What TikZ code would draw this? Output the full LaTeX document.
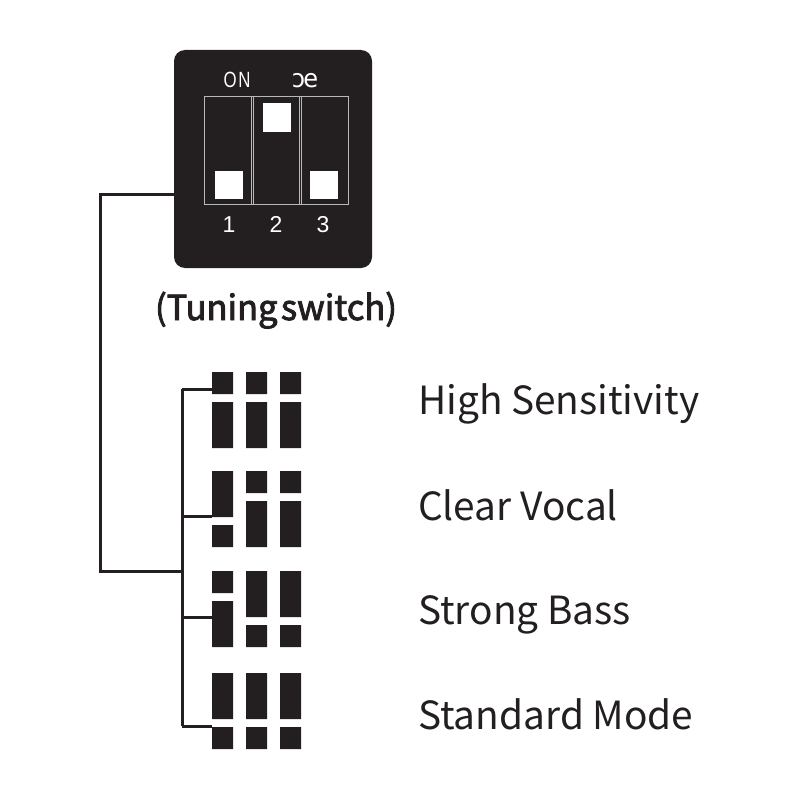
\documentclass[tikz,border=0pt]{standalone}
\usepackage{fontspec}
\setmainfont{Noto Sans CJK SC}
\newfontfamily\capf{Noto Sans CJK SC}[FakeBold=2.5]
\newfontfamily\arialf{Liberation Sans}
\newfontfamily\dejavuf{DejaVu Sans}
\definecolor{ink}{HTML}{231F20}
\definecolor{frameline}{HTML}{B8B8B8}
\begin{document}
\begin{tikzpicture}[x=1pt,y=-1pt,
  wire/.style={draw=ink,line width=3pt},
  blk/.style={fill=ink},
  knob/.style={fill=white},
  lbl/.style={anchor=base west,inner sep=0,text=ink,font=\fontsize{38.8}{42}\selectfont},
  dig/.style={anchor=base,inner sep=0,text=white,font=\arialf\fontsize{23}{26}\selectfont},
  top/.style={anchor=base,inner sep=0,text=white,font=\arialf\fontsize{21}{24}\selectfont}]
\useasboundingbox (0,0) rectangle (800,800);
% switch body
\node[fill=ink,rounded corners=11pt,minimum width=198pt,minimum height=218pt,inner sep=0] (sw) at (273,159) {};
\draw[frameline,line width=0.9pt] (204,96) rectangle (348,204);
\draw[frameline,line width=0.9pt] (251,96) -- (251,204) (253.5,96) -- (253.5,204);
\draw[frameline,line width=0.9pt] (299,96) -- (299,204) (301.5,96) -- (301.5,204);
\path[knob] (215,171) rectangle (243,199);
\path[knob] (263,103) rectangle (291,132);
\path[knob] (310,171) rectangle (338,199);
\node[top] (on) at (237,88) {\scalebox{0.8}[1.05]{O\kern2ptN}};
\node[top] (off) at (305,88) {\scalebox{1.15}[1.2]{\dejavuf ɔ\kern-1.5pt e}};
\node[dig] (d1) at (229,232) {1};
\node[dig] (d2) at (276,232) {2};
\node[dig] (d3) at (323,232) {3};
\node[anchor=base,inner sep=0,text=ink,font=\capf\fontsize{34.5}{38}\selectfont] (cap) at (276,320) {(Tuning\hspace{0.1em}switch)};
% patterns
% group 1
\path[blk] (212,372) rectangle (233,394) (246,372) rectangle (267,394) (280,372) rectangle (301,394);
\path[blk] (212,402) rectangle (233,448) (246,402) rectangle (267,448) (280,402) rectangle (301,448);
% group 2
\path[blk] (212,471) rectangle (233,517) (212,525) rectangle (233,547);
\path[blk] (246,471) rectangle (267,493) (280,471) rectangle (301,493);
\path[blk] (246,501) rectangle (267,547) (280,501) rectangle (301,547);
% group 3
\path[blk] (212,571) rectangle (233,593) (212,601) rectangle (233,647);
\path[blk] (246,571) rectangle (267,617) (280,571) rectangle (301,617);
\path[blk] (246,625) rectangle (267,647) (280,625) rectangle (301,647);
% group 4
\path[blk] (212,673) rectangle (233,719) (246,673) rectangle (267,719) (280,673) rectangle (301,719);
\path[blk] (212,727) rectangle (233,749) (246,727) rectangle (267,749) (280,727) rectangle (301,749);
% connection points
\coordinate (g1) at (212,389);
\coordinate (g2) at (212,516);
\coordinate (g3) at (212,617);
\coordinate (g4) at (212,726);
\coordinate (busL) at (100,194);
\coordinate (busJ) at (182,571);
% wires
\draw[wire] (sw.west |- busL) -- (busL) |- (busJ);
\draw[wire] (g1 -| busJ) -- (g4 -| busJ);
\draw[wire] (g1 -| busJ) -- (g1);
\draw[wire] (g2 -| busJ) -- (g2);
\draw[wire] (g3 -| busJ) -- (g3);
\draw[wire] (g4 -| busJ) -- (g4);
% labels
\node[lbl] (l1) at (418,414) {High Sensitivity};
\node[lbl] (l2) at (418,520) {Clear Vocal};
\node[lbl] (l3) at (418,624) {Strong Bass};
\node[lbl] (l4) at (418,729) {Standard Mode};
\end{tikzpicture}
\end{document}
